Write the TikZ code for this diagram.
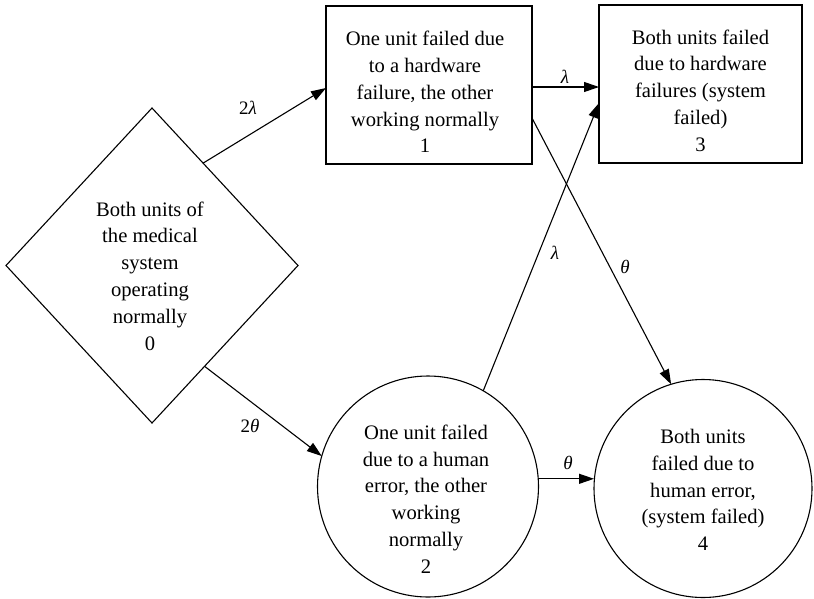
\documentclass[tikz,border=0pt]{standalone}
\usepackage{fontspec}
\setmainfont{Liberation Serif}
\usetikzlibrary{shapes.geometric,arrows.meta,calc}

\tikzset{
  stateline/.style={draw=black, line width=1.1pt, inner sep=0pt, outer sep=0pt},
  diamondstate/.style={stateline, diamond, minimum width=292pt, minimum height=315pt},
  boxstate/.style={stateline, rectangle},
  circlestate/.style={stateline, circle},
  statetext/.style={align=center, inner sep=0pt, font=\fontsize{20.6}{26.8}\selectfont},
  rate/.style={inner sep=0pt, font=\fontsize{19}{22}\selectfont},
  trans/.style={line width=1.1pt, -{Triangle[length=15pt,width=10pt]}}
}

\begin{document}
\begin{tikzpicture}[x=1pt,y=-1pt]
  \useasboundingbox (0,0) rectangle (814,598);

  % state shapes
  \node[diamondstate] (d0) at (152,265.5) {};
  \node[boxstate, minimum width=206pt, minimum height=158pt] (b1) at (429,85) {};
  \node[boxstate, minimum width=203pt, minimum height=158pt] (b3) at (700.5,84) {};
  \node[circlestate, minimum size=221pt] (c2) at (428,486.5) {};
  \node[circlestate, minimum size=218pt] (c4) at (703,488.5) {};

  % state descriptions
  \node[statetext] (t0) at (150,276) {Both units of\\the medical\\system\\operating\\normally\\0};
  \node[statetext] (t1) at (425,92) {One unit failed due\\to a hardware\\failure, the other\\working normally\\1};
  \node[statetext] (t3) at (700.5,90.5) {Both units failed\\due to hardware\\failures (system\\failed)\\3};
  \node[statetext] (t2) at (426,499) {One unit failed\\due to a human\\error, the other\\working\\normally\\2};
  \node[statetext] (t4) at (703,490) {Both units\\failed due to\\human error,\\(system failed)\\4};

  % transitions
  \draw[trans] ($(d0.north)!0.35!(d0.east)$) -- ([yshift=-3pt]b1.west);
  \draw[trans] ($(d0.east)!0.64!(d0.south)$) -- (c2.164.6);
  \draw[trans] ([yshift=-2pt]b1.east) -- ([yshift=-2pt]b1.east -| b3.west);
  \draw[trans] (c2.60) -- ([yshift=-19pt]b3.west);
  \draw[trans] ([yshift=-33pt]b1.east) -- (c4.107);
  \draw[trans] (c2.4.2) -- (c2.4.2 -| c4.west);

  % transition rates
  \node[rate] (l01) at (248,108) {2\textit{λ}};
  \node[rate] (l02) at (250,426) {2\textit{θ}};
  \node[rate] (l13) at (565,77) {\textit{λ}};
  \node[rate] (l23) at (555,253) {\textit{λ}};
  \node[rate] (l14) at (625,267) {\textit{θ}};
  \node[rate] (l24) at (568,463) {\textit{θ}};
\end{tikzpicture}
\end{document}
